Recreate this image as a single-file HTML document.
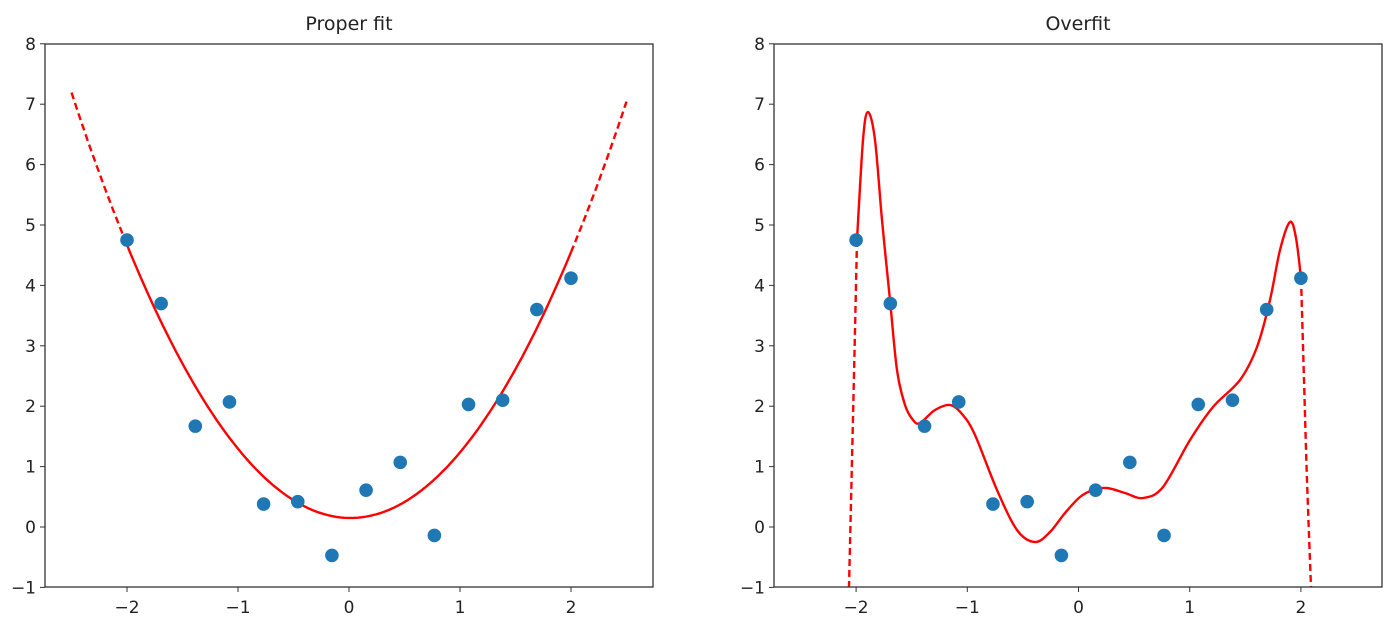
<!DOCTYPE html>
<html><head><meta charset="utf-8"><style>
body{margin:0;background:#fff}
svg text{font-family:"DejaVu Sans","Liberation Sans",sans-serif;fill:#222}
</style></head><body>
<svg id="s" width="1391" height="628" xmlns="http://www.w3.org/2000/svg">
<text x="349" y="30" font-size="19" text-anchor="middle">Proper fit</text>
<text x="1078" y="30" font-size="19" text-anchor="middle">Overfit</text>
<g id="g"></g>
</svg>
<script>
const NS="http://www.w3.org/2000/svg",g=document.getElementById('g');
function el(t,a,txt){const e=document.createElementNS(NS,t);for(const k in a)e.setAttribute(k,a[k]);if(txt!==undefined)e.textContent=txt;g.appendChild(e);return e;}
const Y0=527,SY=60.4;
const xs=[],ys=[4.75,3.7,1.67,2.07,0.38,0.42,-0.47,0.61,1.07,-0.14,2.03,2.1,3.6,4.12];
for(let i=0;i<14;i++)xs.push(-2+4*i/13);
function axes(L,R,cx,sx){
  for(let v=-1;v<=8;v++){const y=Y0-SY*v;el('line',{x1:L-5,x2:L,y1:y,y2:y,stroke:'#333','stroke-width':1});
    el('text',{x:L-9,y:y+6,'font-size':17,'text-anchor':'end'},(v<0?'−':'')+Math.abs(v));}
  for(let v=-2;v<=2;v++){const x=cx+sx*v;el('line',{x1:x,x2:x,y1:587,y2:592,stroke:'#333','stroke-width':1});
    el('text',{x:x,y:613,'font-size':17,'text-anchor':'middle'},(v<0?'−':'')+Math.abs(v));}
}
function frame(L,R){el('rect',{x:L,y:44,width:R-L,height:543,fill:'none',stroke:'#333','stroke-width':1.3});}
function pts(cx,sx){for(let i=0;i<14;i++)el('circle',{cx:cx+sx*xs[i],cy:Y0-SY*ys[i],r:6.8,fill:'#1f77b4'});}
axes(45,653,349,111);
const f=x=>1.115*x*x-0.03*x+0.15;
function poly(a,b,n){let d='';for(let i=0;i<=n;i++){const x=a+(b-a)*i/n;d+=(i?'L':'M')+(349+111*x).toFixed(1)+','+(Y0-SY*f(x)).toFixed(1);}return d;}
el('path',{d:poly(-2.5,-2,20),fill:'none',stroke:'#f00','stroke-width':2.4,'stroke-dasharray':'7,4'});
el('path',{d:poly(2,2.5,20),fill:'none',stroke:'#f00','stroke-width':2.4,'stroke-dasharray':'7,4'});
el('path',{d:poly(-2,2,100),fill:'none',stroke:'#f00','stroke-width':2.4});
pts(349,111);
frame(45,653);
axes(774,1382,1078.5,111.2);
function cr(P){let d='M'+P[0][0]+','+P[0][1];for(let i=0;i<P.length-1;i++){const p0=P[Math.max(0,i-1)],p1=P[i],p2=P[i+1],p3=P[Math.min(P.length-1,i+2)];
 d+=' C'+(p1[0]+(p2[0]-p0[0])/6).toFixed(1)+','+(p1[1]+(p2[1]-p0[1])/6).toFixed(1)+' '+(p2[0]-(p3[0]-p1[0])/6).toFixed(1)+','+(p2[1]-(p3[1]-p1[1])/6).toFixed(1)+' '+p2[0]+','+p2[1];}return d;}
const P=[[857,240],[863,140],[868,112],[875,140],[882,220],[890,300],[897,370],[905,405],[913,420],[920,423],[935,410],[950,405],[962,414],[975,435],[997,490],[1017,530],[1035,542],[1050,532],[1065,513],[1080,497],[1093,490],[1107,488],[1125,493],[1143,498],[1163,487],[1190,440],[1213,407],[1240,380],[1257,347],[1270,300],[1280,250],[1290,222],[1296,238],[1301,278]];
el('path',{d:cr(P),fill:'none',stroke:'#f00','stroke-width':2.4});
el('path',{d:cr([[857,240],[855,330],[852,460],[849,587]]),fill:'none',stroke:'#f00','stroke-width':2.4,'stroke-dasharray':'7,4'});
el('path',{d:cr([[1301,278],[1304,380],[1307,480],[1311,587]]),fill:'none',stroke:'#f00','stroke-width':2.4,'stroke-dasharray':'7,4'});
pts(1078.5,111.2);
frame(774,1382);
</script>
</body></html>
